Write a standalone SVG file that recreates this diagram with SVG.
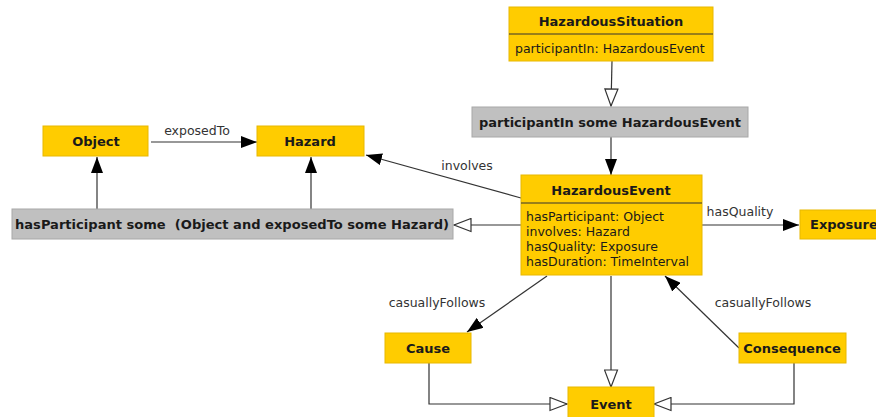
<svg xmlns="http://www.w3.org/2000/svg" width="876" height="417" viewBox="0 0 876 417">
<defs>
<style>
.y{fill:#ffcc00;stroke:#e8b800;stroke-width:1}
.g{fill:#c0c0c0;stroke:#a8a8a8;stroke-width:1}
.t{font-family:"DejaVu Sans",Verdana,sans-serif;font-size:13px;font-weight:bold;fill:#1a1a1a;text-anchor:middle}
.a{font-family:"DejaVu Sans",Verdana,sans-serif;font-size:12.5px;fill:#1a1a1a}
.l{font-family:"DejaVu Sans",Verdana,sans-serif;font-size:12.5px;fill:#333;text-anchor:middle}
.e{fill:none;stroke:#333;stroke-width:1.2}
.f{fill:none;stroke:#333;stroke-width:1.2;marker-end:url(#fa)}
.h{fill:none;stroke:#333;stroke-width:1.2;marker-end:url(#ha)}
</style>
<marker id="fa" viewBox="0 0 16 12" refX="16" refY="6" markerWidth="16" markerHeight="12" markerUnits="userSpaceOnUse" orient="auto"><path d="M0,0 L16,6 L0,12 Z" fill="#000"/></marker>
<marker id="ha" viewBox="0 0 19 15" refX="18" refY="7.5" markerWidth="19" markerHeight="15" markerUnits="userSpaceOnUse" orient="auto"><path d="M1,1 L18,7.5 L1,14 Z" fill="#fff" stroke="#333" stroke-width="1.2"/></marker>
</defs>
<rect width="876" height="417" fill="#fff"/>
<g id="connectors">
<path class="h" d="M612,61 L611,106"/>
<path class="f" d="M611,137 L611,175"/>
<path class="f" d="M151,142 L257,142"/>
<text class="l" x="197" y="135">exposedTo</text>
<path class="f" d="M97,209 L97,157"/>
<path class="f" d="M311,209 L311,157"/>
<path class="f" d="M521,198 L366,155"/>
<text class="l" x="467" y="170">involves</text>
<path class="h" d="M521,225 L454,225"/>
<path class="f" d="M702,225 L799,225"/>
<text class="l" x="740" y="216">hasQuality</text>
<path class="f" d="M547,276 L467,332"/>
<text class="l" x="437" y="307">casuallyFollows</text>
<path class="f" d="M739,348 L665,276"/>
<text class="l" x="763" y="307">casuallyFollows</text>
<path class="h" d="M611,276 L611,387"/>
<path class="h" d="M429,363 L429,404 L567,404"/>
<path class="h" d="M794,363 L794,404 L654,404"/>
</g>
<g id="HazardousSituation">
<rect class="y" x="509" y="7" width="204" height="54"/>
<line x1="509" y1="34" x2="713" y2="34" stroke="#333" stroke-width="1"/>
<text class="t" x="611" y="26">HazardousSituation</text>
<text class="a" x="515" y="53">participantIn: HazardousEvent</text>
</g>
<g id="participantInSome">
<rect class="g" x="472" y="107" width="276" height="30"/>
<text class="t" x="610" y="127" textLength="262" lengthAdjust="spacingAndGlyphs">participantIn some HazardousEvent</text>
</g>
<g id="Object">
<rect class="y" x="43" y="126" width="105" height="30"/>
<text class="t" x="96" y="146">Object</text>
</g>
<g id="Hazard">
<rect class="y" x="257" y="126" width="107" height="30"/>
<text class="t" x="310" y="146">Hazard</text>
</g>
<g id="hasParticipantSome">
<rect class="g" x="12" y="209" width="441" height="30"/>
<text class="t" x="232" y="229" textLength="434" lengthAdjust="spacingAndGlyphs" style="white-space:pre">hasParticipant some  (Object and exposedTo some Hazard)</text>
</g>
<g id="HazardousEvent">
<rect class="y" x="521" y="175" width="181" height="100"/>
<line x1="521" y1="203" x2="702" y2="203" stroke="#333" stroke-width="1"/>
<text class="t" x="611" y="195">HazardousEvent</text>
<text class="a" x="526" y="221">hasParticipant: Object</text>
<text class="a" x="526" y="236">involves: Hazard</text>
<text class="a" x="526" y="251">hasQuality: Exposure</text>
<text class="a" x="526" y="266">hasDuration: TimeInterval</text>
</g>
<g id="Exposure">
<rect class="y" x="800" y="210" width="90" height="29"/>
<text class="t" x="810" y="229" style="text-anchor:start">Exposure</text>
</g>
<g id="Cause">
<rect class="y" x="385" y="333" width="86" height="30"/>
<text class="t" x="428" y="353">Cause</text>
</g>
<g id="Consequence">
<rect class="y" x="739" y="333" width="107" height="30"/>
<text class="t" x="792" y="353">Consequence</text>
</g>
<g id="Event">
<rect class="y" x="568" y="387" width="86" height="32"/>
<text class="t" x="611" y="409">Event</text>
</g>
</svg>
